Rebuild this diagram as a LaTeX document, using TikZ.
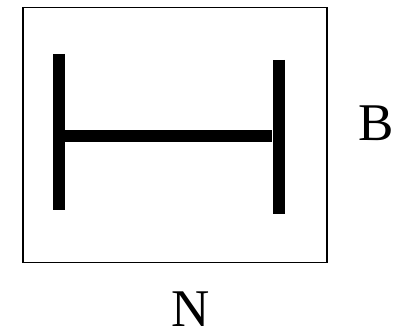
\documentclass[tikz,border=0pt]{standalone}
\usepackage{fontspec}
\setmainfont{Liberation Serif}
\usepackage{tikz}
\usetikzlibrary{positioning}

\begin{document}
\begin{tikzpicture}[x=1pt, y=-1pt]
  \useasboundingbox (0,0) rectangle (394,336);
  \node[draw, line width=1.5pt, inner sep=0pt, anchor=north west,
        minimum width=304pt, minimum height=255pt] (frame) at (22,7) {};

  \coordinate (ltop) at (59,54);
  \coordinate (lbot) at (59,210);
  \coordinate (rtop) at (278.5,60);
  \coordinate (rbot) at (278.5,214);
  \coordinate (hstart) at (65,136.5);
  \coordinate (hend) at (272,136.5);

  \draw[line width=12.5pt] (ltop) -- (lbot);
  \draw[line width=12pt] (rtop) -- (rbot);
  \draw[line width=12pt] (hstart) -- (hend);

  \node[anchor=base, inner sep=0pt,
        font=\fontsize{53}{58}\selectfont] (labB) at (376,141) {B};
  \node[anchor=base, inner sep=0pt,
        font=\fontsize{53}{58}\selectfont] (labN) at (191,327) {N};
\end{tikzpicture}
\end{document}
